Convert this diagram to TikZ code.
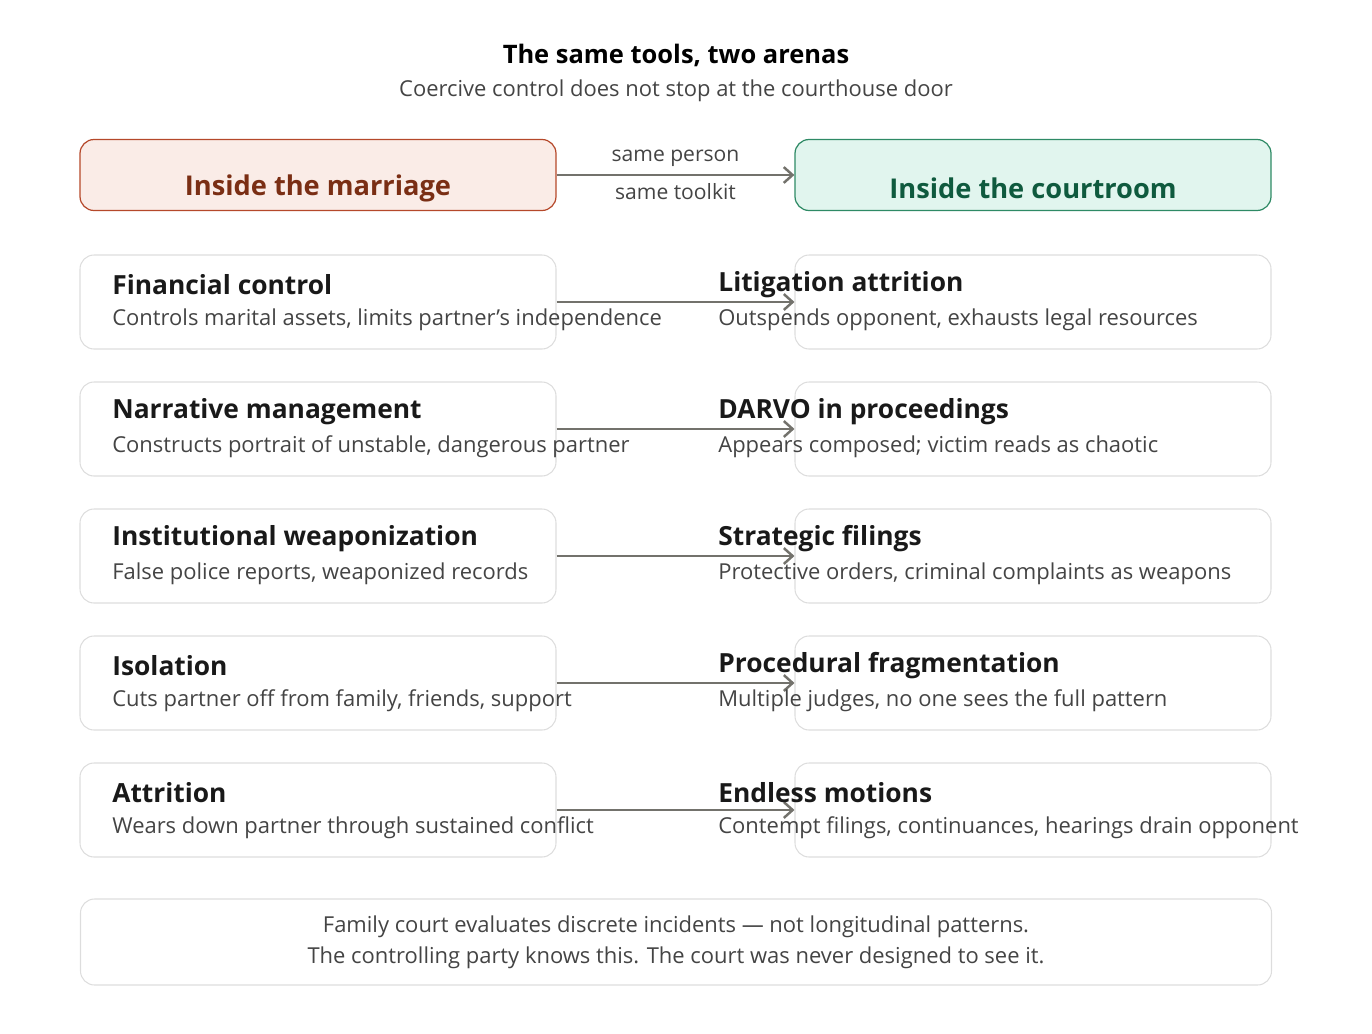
\documentclass[tikz,border=0pt]{standalone}
\usepackage{fontspec}
\setmainfont{Open Sans}
\usetikzlibrary{positioning,arrows.meta}
\definecolor{marfill}{HTML}{FAECE7}
\definecolor{mardraw}{HTML}{B5482A}
\definecolor{martext}{HTML}{7A2E14}
\definecolor{crtfill}{HTML}{E1F5EE}
\definecolor{crtdraw}{HTML}{2E8A65}
\definecolor{crttext}{HTML}{0F5A3E}
\definecolor{cardline}{HTML}{DDDDDD}
\definecolor{arrowgrey}{HTML}{73726C}
\definecolor{subgrey}{HTML}{444444}

\begin{document}
\begin{tikzpicture}[x=0.02cm,y=-0.02cm,
  card/.style={draw=cardline,rounded corners=8pt,minimum width=476*0.02cm,minimum height=94*0.02cm,inner sep=0pt,line width=0.6pt},
  head/.style={rounded corners=8pt,minimum width=476*0.02cm,minimum height=71*0.02cm,inner sep=0pt,line width=0.7pt},
  headtext/.style={font=\fontsize{15.5}{18}\selectfont\bfseries},
  ctitle/.style={anchor=west,inner sep=0pt,font=\fontsize{15}{18}\selectfont\bfseries,text=black!90},
  cdesc/.style={anchor=west,inner sep=0pt,font=\fontsize{12.5}{15}\selectfont,text=subgrey},
  link/.style={draw=arrowgrey,line width=1.4pt,-{Straight Barb[length=5pt,width=9pt]}}]
\useasboundingbox (0,0) rectangle (1372,1034);
\node[font=\fontsize{14.5}{17}\selectfont\bfseries] (title) at (676,55) {The same tools, two arenas};
\node[font=\fontsize{12.5}{15}\selectfont,text=subgrey] (subtitle) at (676,91) {Coercive control does not stop at the courthouse door};

% arena headers
\node[head,draw=mardraw,fill=marfill] (HL) at (318,175) {};
\node[head,draw=crtdraw,fill=crtfill] (HR) at (1033,175) {};
\node[headtext,text=martext] at (318,188) {Inside the marriage};
\node[headtext,text=crttext] at (1033,188) {Inside the courtroom};
\draw[link] (HL.east) -- (HR.west) node[midway,above=1pt,font=\fontsize{12}{14}\selectfont,text=subgrey] {same person}
  node[midway,below=1pt,font=\fontsize{12}{14}\selectfont,text=subgrey] {same toolkit};

% paired cards
\foreach \i/\y/\lt/\ld/\rt/\rd in {
  1/302/{Financial control}/{Controls marital assets, limits partner's independence}/{Litigation attrition}/{Outspends opponent, exhausts legal resources},
  2/429/{Narrative management}/{Constructs portrait of unstable, dangerous partner}/{DARVO in proceedings}/{Appears composed; victim reads as chaotic},
  3/556/{Institutional weaponization}/{False police reports, weaponized records}/{Strategic filings}/{Protective orders, criminal complaints as weapons},
  4/683/{Isolation}/{Cuts partner off from family, friends, support}/{Procedural fragmentation}/{Multiple judges, no one sees the full pattern},
  5/810/{Attrition}/{Wears down partner through sustained conflict}/{Endless motions}/{Contempt filings, continuances, hearings drain opponent}} {
  \node[card] (L\i) at (318,\y) {};
  \node[card] (R\i) at (1033,\y) {};
  \draw[link] (L\i.east) -- (R\i.west);
  \node[ctitle] at (112,\y-17) {\lt};
  \node[cdesc] at (112,\y+18) {\ld};
  \node[ctitle] at (718,\y-17) {\rt};
  \node[cdesc] at (718,\y+18) {\rd};
}

% footer
\node[draw=cardline,rounded corners=8pt,minimum width=1191*0.02cm,minimum height=86*0.02cm,line width=0.6pt,
  align=center,font=\fontsize{12.5}{17.5}\selectfont,text=subgrey] (foot) at (676,942)
  {Family court evaluates discrete incidents — not longitudinal patterns.\\The controlling party knows this. The court was never designed to see it.};
\end{tikzpicture}
\end{document}
